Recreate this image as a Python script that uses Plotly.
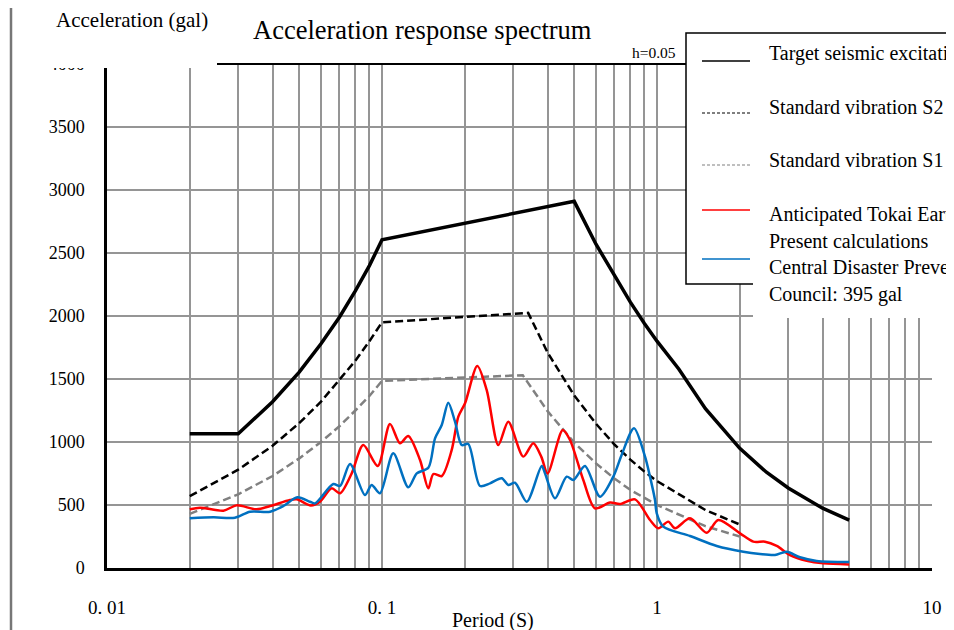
import plotly.graph_objects as go

# ---------------- data ----------------
period_target = [0.02, 0.03, 0.04, 0.05, 0.06, 0.07, 0.08, 0.09, 0.1, 0.5, 0.6, 0.7, 0.8, 0.9, 1.0, 1.2, 1.5, 2.0, 2.5, 3.0, 4.0, 5.0]
accel_target = [1065, 1065, 1320, 1555, 1780, 1990, 2200, 2400, 2605, 2910, 2570, 2320, 2110, 1940, 1800, 1580, 1265, 950, 760, 635, 475, 380]

period_s2 = [0.02, 0.03, 0.04, 0.05, 0.06, 0.07, 0.08, 0.09, 0.1, 0.34, 0.4, 0.5, 0.6, 0.7, 0.8, 0.9, 1.0, 1.5, 2.0]
accel_s2 = [570, 780, 970, 1150, 1320, 1490, 1645, 1800, 1950, 2025, 1710, 1370, 1145, 980, 860, 765, 690, 460, 345]

period_s1 = [0.02, 0.03, 0.04, 0.05, 0.06, 0.07, 0.08, 0.09, 0.1, 0.325, 0.4, 0.5, 0.6, 0.7, 0.8, 0.9, 1.0, 1.5, 2.0]
accel_s1 = [430, 585, 730, 870, 1000, 1125, 1250, 1365, 1485, 1530, 1245, 995, 830, 710, 620, 555, 500, 332, 250]

period_tokai = [0.02, 0.0218, 0.0265, 0.0296, 0.035, 0.0392, 0.0463, 0.049, 0.0551, 0.0595, 0.0656, 0.0704,
                0.0776, 0.0855, 0.0965, 0.1069, 0.1163, 0.1246, 0.1375, 0.1474, 0.1537, 0.1649, 0.1793,
                0.1895, 0.2004, 0.2221, 0.2402, 0.2648, 0.2879, 0.3265, 0.355, 0.38, 0.40, 0.4541, 0.4826,
                0.5395, 0.5951, 0.6748, 0.7337, 0.8318, 0.9431, 1.011, 1.099, 1.163, 1.318, 1.516, 1.671,
                2.004, 2.24, 2.47, 2.725, 3.045, 3.503, 4.025, 5.0]
accel_tokai = [466, 479, 455, 497, 466, 492, 540, 545, 496, 526, 632, 593,
               751, 976, 810, 1143, 990, 1048, 857, 632, 746, 730, 937,
               1201, 1307, 1603, 1413, 976, 1161, 884, 990, 880, 750, 1095, 1016,
               698, 473, 519, 508, 545, 381, 315, 368, 315, 394, 280, 381,
               275, 209, 209, 175, 103, 58, 37, 28]

period_central = [0.02, 0.0244, 0.0292, 0.0331, 0.0392, 0.0438, 0.0492, 0.0547, 0.0571, 0.0665, 0.0704,
                  0.0765, 0.0867, 0.0917, 0.0983, 0.1099, 0.1246, 0.1338, 0.1474, 0.1559, 0.1649, 0.1742,
                  0.1843, 0.1949, 0.206, 0.2272, 0.2471, 0.2725, 0.2879, 0.3045, 0.336, 0.3808, 0.3915,
                  0.4257, 0.4695, 0.4962, 0.5471, 0.6203, 0.6936, 0.7437, 0.8249, 0.9046, 0.9431, 0.9834,
                  0.998, 1.054, 1.318, 1.649, 2.06, 2.368, 2.686, 2.962, 3.311, 3.808, 5.0]
accel_central = [394, 402, 399, 447, 447, 492, 561, 526, 513, 667, 651,
                 825, 579, 659, 593, 910, 640, 751, 795, 1029, 1135, 1312,
                 1161, 976, 984, 651, 672, 712, 659, 677, 526, 810, 751,
                 553, 725, 698, 810, 566, 725, 897, 1109, 884, 725, 540,
                 434, 328, 254, 175, 129, 111, 103, 129, 85, 56, 48]

x_tickvals = [0.01, 0.1, 1, 10]
x_ticktext = ["0. 01", "0. 1", "1", "10"]
x_minor = [m * d for d in (0.01, 0.1, 1) for m in range(2, 10)]
y_tickvals = [0, 500, 1000, 1500, 2000, 2500, 3000, 3500, 4000]

legend_labels = ["Target seismic excitation", "Standard vibration S2", "Standard vibration S1",
                 "Anticipated Tokai Earthquake", "Present calculations",
                 "Central Disaster Prevention", "Council: 395 gal"]

SERIF = "Liberation Serif"
GRID = "#959595"
RED = "#ff0000"
BLUE = "#0070c0"

fig = go.Figure()
fig.add_trace(go.Scatter(x=period_target, y=accel_target, mode="lines",
                         line=dict(color="black", width=3.5)))
fig.add_trace(go.Scatter(x=period_s2, y=accel_s2, mode="lines",
                         line=dict(color="black", width=2.5, dash="8px,4px")))
fig.add_trace(go.Scatter(x=period_s1, y=accel_s1, mode="lines",
                         line=dict(color="#808080", width=2.5, dash="8px,4px")))
fig.add_trace(go.Scatter(x=period_tokai, y=accel_tokai, mode="lines",
                         line=dict(color=RED, width=2.5, shape="spline", smoothing=0.8)))
fig.add_trace(go.Scatter(x=period_central, y=accel_central, mode="lines",
                         line=dict(color=BLUE, width=2.5, shape="spline", smoothing=0.8)))

tickvals_all = x_tickvals + x_minor
ticktext_all = x_ticktext + [""] * len(x_minor)

# The page body has an 8px margin, so the figure is sized and placed to compensate.
fig.update_layout(
    width=946, height=622,
    margin=dict(l=99, r=22, t=56, b=62),
    paper_bgcolor="white", plot_bgcolor="white",
    showlegend=False,
    font=dict(family=SERIF, size=18, color="black"),
    xaxis=dict(type="log", range=[-2, 1], tickvals=tickvals_all, ticktext=ticktext_all,
               showgrid=True, gridcolor=GRID, gridwidth=1.5, zeroline=False,
               showline=True, linecolor="black", linewidth=3, ticks="",
               ticklabelstandoff=20, tickfont=dict(family=SERIF, size=19)),
    yaxis=dict(range=[0, 4000], tickvals=y_tickvals, showgrid=True, gridcolor=GRID, gridwidth=1.5,
               zeroline=False, showline=True, linecolor="black", linewidth=2.5, ticks="",
               ticklabelstandoff=16, tickfont=dict(family=SERIF, size=18)),
)

# helpers: screen pixel -> paper coordinates (plot area spans screen x 107..932, y 64..568)
def px_x(p):
    return (p - 107) / 825.0

def px_y(p):
    return (568 - p) / 504.0

shapes = []
shapes.append(dict(type="line", xref="paper", yref="paper", x0=px_x(11), x1=px_x(11),
                   y0=px_y(640), y1=px_y(-10), line=dict(color="#777777", width=2.5), layer="above"))
shapes.append(dict(type="line", xref="paper", yref="paper", x0=0, x1=1, y0=1, y1=1,
                   line=dict(color="black", width=2), layer="above"))
shapes.append(dict(type="rect", xref="paper", yref="paper", x0=px_x(22), x1=px_x(217),
                   y0=px_y(68), y1=px_y(-5), fillcolor="white", line=dict(width=0), layer="above"))
shapes.append(dict(type="rect", xref="paper", yref="paper", x0=px_x(686), x1=px_x(970),
                   y0=px_y(284), y1=px_y(33), fillcolor="white",
                   line=dict(color="black", width=1.5), layer="above"))
shapes.append(dict(type="rect", xref="paper", yref="paper", x0=px_x(753), x1=px_x(970),
                   y0=px_y(318), y1=px_y(282.5), fillcolor="white", line=dict(width=0), layer="above"))

legend_styles = [
    (61, dict(color="black", width=1.5)),
    (113, dict(color="black", width=1.2, dash="3px,2px")),
    (165, dict(color="#808080", width=1.2, dash="3px,2px")),
    (210, dict(color=RED, width=1.5)),
    (259, dict(color=BLUE, width=1.5)),
]
for yy, st in legend_styles:
    shapes.append(dict(type="line", xref="paper", yref="paper", x0=px_x(702), x1=px_x(750),
                       y0=px_y(yy), y1=px_y(yy), line=st, layer="above"))
fig.update_layout(shapes=shapes)

ann = []
ann.append(dict(text="Acceleration response spectrum", x=px_x(422), y=px_y(30), xref="paper", yref="paper",
                showarrow=False, xanchor="center", yanchor="middle", font=dict(family=SERIF, size=26.5)))
ann.append(dict(text="Acceleration (gal)", x=px_x(132), y=px_y(20), xref="paper", yref="paper",
                showarrow=False, xanchor="center", yanchor="middle", font=dict(family=SERIF, size=21)))
ann.append(dict(text="Period (S)", x=px_x(493), y=px_y(620), xref="paper", yref="paper",
                showarrow=False, xanchor="center", yanchor="middle", font=dict(family=SERIF, size=20)))
ann.append(dict(text="h=0.05", x=px_x(678), y=px_y(52), xref="paper", yref="paper",
                showarrow=False, xanchor="right", yanchor="middle", font=dict(family=SERIF, size=15.5)))
legend_text_y = [53, 107, 160, 214, 241, 267, 294]
for txt, yy in zip(legend_labels, legend_text_y):
    ann.append(dict(text=txt, x=px_x(767), y=px_y(yy), xref="paper", yref="paper",
                    showarrow=False, xanchor="left", yanchor="middle", font=dict(family=SERIF, size=20)))
fig.update_layout(annotations=ann)

fig.write_html("out.html")
